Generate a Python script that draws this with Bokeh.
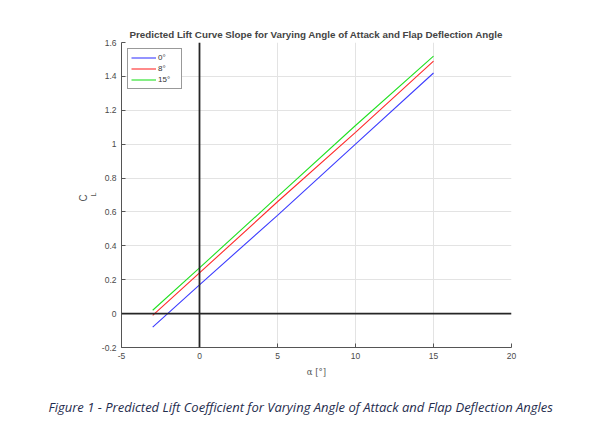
import numpy as np
from math import pi

from bokeh.embed import file_html
from bokeh.resources import INLINE
from bokeh.plotting import figure
from bokeh.models import (Range1d, FixedTicker, NumeralTickFormatter, Span,
                          Title, Legend)

# angle of attack [deg] and predicted lift coefficient per flap deflection
alpha = [-3, 0, 5, 10, 15]
cl_flap0 = [-0.08, 0.17, 0.58, 1.00, 1.42]
cl_flap8 = [-0.01, 0.24, 0.66, 1.07, 1.49]
cl_flap15 = [0.02, 0.27, 0.69, 1.11, 1.52]
flap_labels = ["0°", "8°", "15°"]

x_ticks = [-5, 0, 5, 10, 15, 20]
y_ticks = [-0.2, 0, 0.2, 0.4, 0.6, 0.8, 1, 1.2, 1.4, 1.6]

title_text = "Predicted Lift Curve Slope for Varying Angle of Attack and Flap Deflection Angle"
caption_text = "Figure 1 - Predicted Lift Coefficient for Varying Angle of Attack and Flap Deflection Angles"

p = figure(width=594, height=417, output_backend="svg", toolbar_location=None,
           x_range=Range1d(-5, 20), y_range=Range1d(-0.2, 1.6),
           frame_width=390, frame_height=305,
           min_border_left=121, min_border_right=83,
           min_border_top=42, min_border_bottom=70)
p.outline_line_color = None

p.title.text = title_text
p.title.align = "center"
p.title.text_font = "Liberation Sans"
p.title.text_font_size = "9.8px"
p.title.text_font_style = "bold"
p.title.standoff = 6

# axes, MATLAB style with inward ticks
for ax in (p.xaxis, p.yaxis):
    ax.axis_line_color = "#555555"
    ax.major_tick_line_color = "#555555"
    ax.major_tick_in = 4
    ax.major_tick_out = 0
    ax.minor_tick_line_color = None
    ax.major_label_text_font = "Liberation Sans"
    ax.major_label_text_font_size = "8.5px"
    ax.major_label_text_color = "#4a4a4a"
    ax.major_label_standoff = 5

p.xaxis.ticker = FixedTicker(ticks=x_ticks)
p.yaxis.ticker = FixedTicker(ticks=y_ticks)
p.xaxis.formatter = NumeralTickFormatter(format="0")
p.yaxis.formatter = NumeralTickFormatter(format="0.[0]")

p.xaxis.axis_label = "α [°]"
p.xaxis.axis_label_text_font = "DejaVu Serif"
p.xaxis.axis_label_text_font_style = "normal"
p.xaxis.axis_label_text_font_size = "8.5px"
p.xaxis.axis_label_text_color = "#555555"
p.xaxis.axis_label_standoff = 5

# y label C_L: subscript L sits next to the axis, C just outside it
p.add_layout(Title(text="L", align="left", offset=151, standoff=3,
                   text_font="Liberation Sans", text_font_style="normal",
                   text_font_size="7px", text_color="#555555"), "left")
p.add_layout(Title(text="C", align="left", offset=146, standoff=-5,
                   text_font="Liberation Sans", text_font_style="normal",
                   text_font_size="10px", text_color="#555555"), "left")

p.xgrid.ticker = FixedTicker(ticks=x_ticks)
p.ygrid.ticker = FixedTicker(ticks=y_ticks)
p.grid.grid_line_color = "#e3e3e3"

# reference lines at alpha = 0 and CL = 0
p.add_layout(Span(location=0, dimension="height", line_color="#262626", line_width=1.8))
p.add_layout(Span(location=0, dimension="width", line_color="#262626", line_width=1.8))

r0 = p.line(alpha, cl_flap0, line_color="#3c3cff", line_width=1.1)
r8 = p.line(alpha, cl_flap8, line_color="#ff2a2a", line_width=1.1)
r15 = p.line(alpha, cl_flap15, line_color="#22e022", line_width=1.1)

legend = Legend(items=[(flap_labels[0], [r0]), (flap_labels[1], [r8]), (flap_labels[2], [r15])],
                location="top_left", margin=6, padding=3, spacing=0,
                glyph_width=25, glyph_height=11, label_height=11,
                label_standoff=2, label_text_font="Liberation Sans",
                label_text_font_size="8px", label_text_color="#333333",
                border_line_color="#333333", border_line_width=1,
                background_fill_color="white", background_fill_alpha=1)
p.add_layout(legend)

caption = Title(text=caption_text, align="left", offset=-73, text_font="Open Sans",
                text_font_style="italic", text_font_size="13px",
                text_color="#1f2d4e", standoff=32)
p.add_layout(caption, "below")

open("out.html", "w").write(file_html(p, INLINE))
